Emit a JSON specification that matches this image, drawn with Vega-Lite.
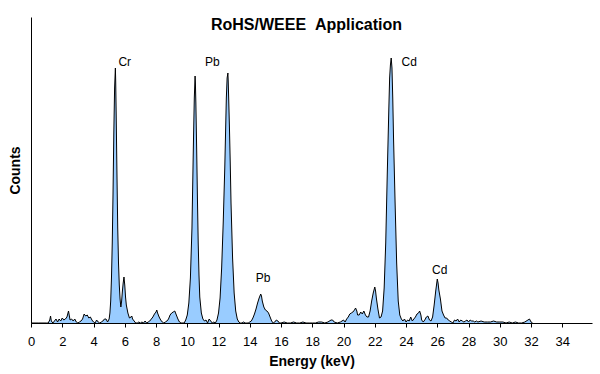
{
  "$schema": "https://vega.github.io/schema/vega-lite/v6.json",
  "width": 561,
  "height": 306,
  "autosize": {"type": "none"},
  "padding": {"left": 31, "top": 17, "right": 8, "bottom": 51},
  "background": "white",
  "config": {
    "view": {"stroke": null},
    "font": "Liberation Sans",
    "axis": {"grid": false, "domainColor": "black", "tickColor": "black", "labelColor": "black", "titleColor": "black", "labelFont": "Liberation Sans", "titleFont": "Liberation Sans"},
    "axisX": {"values": [0,2,4,6,8,10,12,14,16,18,20,22,24,26,28,30,32,34], "tickSize": 4, "labelPadding": 8, "labelFontSize": 13, "labelFontWeight": "normal", "titleFontSize": 14, "titleFontWeight": "bold", "titlePadding": 6, "labelFlush": false, "labelOverlap": false},
    "axisY": {"labels": false, "ticks": false, "titleFontSize": 14, "titleFontWeight": "bold", "titlePadding": 9}
  },
  "title": {
    "text": "RoHS/WEEE\u00a0\u00a0Application",
    "font": "Liberation Sans",
    "fontSize": 16,
    "fontWeight": "bold",
    "color": "black",
    "anchor": "middle",
    "baseline": "top",
    "offset": -16,
    "dx": -5
  },
  "datasets": {
    "spectrum": [
      {"e":0,"c":0},{"e":0.5,"c":0},{"e":1.0,"c":0},{"e":1.1,"c":0},{"e":1.2,"c":3},{"e":1.25,"c":7},{"e":1.3,"c":2},{"e":1.4,"c":0},{"e":1.5,"c":2},{"e":1.6,"c":4},{"e":1.7,"c":1},{"e":1.8,"c":4},{"e":1.9,"c":2},{"e":2.0,"c":5},{"e":2.1,"c":3},{"e":2.2,"c":4},{"e":2.3,"c":6},{"e":2.4,"c":12},{"e":2.5,"c":3},{"e":2.6,"c":4},{"e":2.7,"c":2},{"e":2.8,"c":4},{"e":2.9,"c":1},{"e":3.0,"c":0},{"e":3.1,"c":1},{"e":3.2,"c":2},{"e":3.3,"c":4},{"e":3.4,"c":9},{"e":3.5,"c":7},{"e":3.6,"c":8},{"e":3.7,"c":5},{"e":3.8,"c":6},{"e":3.9,"c":3},{"e":4.0,"c":1},{"e":4.1,"c":0},{"e":4.2,"c":3},{"e":4.3,"c":1},{"e":4.4,"c":0},{"e":4.5,"c":1},{"e":4.6,"c":2},{"e":4.7,"c":4},{"e":4.8,"c":4},{"e":4.9,"c":1},{"e":5.0,"c":4},
      {"e":5.05,"c":10},{"e":5.1,"c":22},{"e":5.15,"c":45},{"e":5.2,"c":80},{"e":5.25,"c":130},{"e":5.3,"c":190},{"e":5.35,"c":235},{"e":5.4,"c":255},{"e":5.42,"c":242},{"e":5.45,"c":210},{"e":5.5,"c":150},{"e":5.55,"c":95},{"e":5.6,"c":60},{"e":5.65,"c":38},{"e":5.7,"c":24},{"e":5.75,"c":16},{"e":5.8,"c":22},{"e":5.85,"c":32},{"e":5.9,"c":40},{"e":5.95,"c":46},{"e":6.0,"c":38},{"e":6.05,"c":26},{"e":6.1,"c":18},{"e":6.2,"c":10},{"e":6.3,"c":5},{"e":6.4,"c":6},{"e":6.45,"c":7},{"e":6.5,"c":4},{"e":6.6,"c":2},{"e":6.7,"c":0},{"e":6.8,"c":0},{"e":6.9,"c":1},{"e":7.0,"c":0},{"e":7.1,"c":1},{"e":7.2,"c":0},{"e":7.3,"c":2},{"e":7.4,"c":0},{"e":7.5,"c":1},{"e":7.6,"c":2},{"e":7.7,"c":4},{"e":7.8,"c":6},{"e":7.9,"c":9},{"e":8.0,"c":11},{"e":8.05,"c":13},{"e":8.1,"c":10},{"e":8.2,"c":6},{"e":8.3,"c":3},{"e":8.4,"c":1},{"e":8.5,"c":0},{"e":8.6,"c":1},{"e":8.7,"c":2},{"e":8.8,"c":4},{"e":8.9,"c":8},{"e":9.0,"c":10},{"e":9.1,"c":11},{"e":9.2,"c":12},{"e":9.3,"c":8},{"e":9.4,"c":4},{"e":9.5,"c":1},{"e":9.6,"c":0},{"e":9.8,"c":0},{"e":9.9,"c":3},
      {"e":10.0,"c":8},{"e":10.1,"c":20},{"e":10.2,"c":45},{"e":10.3,"c":95},{"e":10.35,"c":140},{"e":10.4,"c":185},{"e":10.45,"c":225},{"e":10.5,"c":247},{"e":10.52,"c":240},{"e":10.55,"c":220},{"e":10.6,"c":175},{"e":10.65,"c":125},{"e":10.7,"c":80},{"e":10.75,"c":48},{"e":10.8,"c":26},{"e":10.9,"c":10},{"e":11.0,"c":4},{"e":11.1,"c":2},{"e":11.2,"c":3},{"e":11.3,"c":0},{"e":11.4,"c":4},{"e":11.5,"c":2},{"e":11.6,"c":0},{"e":11.7,"c":1},{"e":11.8,"c":0},{"e":11.9,"c":3},
      {"e":12.0,"c":10},{"e":12.1,"c":25},{"e":12.2,"c":55},{"e":12.3,"c":100},{"e":12.4,"c":155},{"e":12.45,"c":190},{"e":12.5,"c":225},{"e":12.55,"c":245},{"e":12.6,"c":250},{"e":12.62,"c":242},{"e":12.65,"c":225},{"e":12.7,"c":195},{"e":12.75,"c":160},{"e":12.8,"c":120},{"e":12.9,"c":65},{"e":13.0,"c":30},{"e":13.1,"c":12},{"e":13.2,"c":4},{"e":13.3,"c":1},{"e":13.4,"c":0},{"e":13.5,"c":0},{"e":13.6,"c":1},{"e":13.7,"c":0},{"e":13.8,"c":0},{"e":13.9,"c":0},
      {"e":14.0,"c":1},{"e":14.1,"c":2},{"e":14.2,"c":5},{"e":14.3,"c":9},{"e":14.4,"c":14},{"e":14.5,"c":20},{"e":14.6,"c":25},{"e":14.7,"c":29},{"e":14.75,"c":27},{"e":14.8,"c":22},{"e":14.9,"c":16},{"e":15.0,"c":13},{"e":15.1,"c":12},{"e":15.2,"c":10},{"e":15.3,"c":6},{"e":15.4,"c":2},{"e":15.5,"c":0},{"e":15.6,"c":1},{"e":15.7,"c":3},{"e":15.8,"c":2},{"e":15.9,"c":0},{"e":16.0,"c":0},{"e":16.2,"c":1},{"e":16.4,"c":0},{"e":16.6,"c":0},{"e":16.8,"c":1},{"e":17.0,"c":0},{"e":17.2,"c":0},{"e":17.4,"c":1},{"e":17.6,"c":0},{"e":17.8,"c":0},{"e":18.0,"c":0},{"e":18.2,"c":0},{"e":18.4,"c":1},{"e":18.6,"c":1},{"e":18.8,"c":0},{"e":19.0,"c":1},{"e":19.2,"c":3},{"e":19.3,"c":3},{"e":19.4,"c":1},{"e":19.6,"c":0},{"e":19.8,"c":1},
      {"e":20.0,"c":3},{"e":20.1,"c":1},{"e":20.2,"c":4},{"e":20.3,"c":6},{"e":20.4,"c":9},{"e":20.5,"c":10},{"e":20.6,"c":11},{"e":20.7,"c":13},{"e":20.77,"c":15},{"e":20.85,"c":12},{"e":20.9,"c":8},{"e":21.0,"c":8},{"e":21.1,"c":11},{"e":21.2,"c":9},{"e":21.3,"c":12},{"e":21.4,"c":8},{"e":21.5,"c":6},{"e":21.6,"c":6},{"e":21.7,"c":12},{"e":21.8,"c":22},{"e":21.9,"c":30},{"e":22.0,"c":36},{"e":22.05,"c":32},{"e":22.1,"c":25},{"e":22.2,"c":14},{"e":22.3,"c":5},{"e":22.4,"c":6},{"e":22.5,"c":12},{"e":22.6,"c":35},{"e":22.7,"c":80},{"e":22.8,"c":150},{"e":22.9,"c":215},{"e":22.95,"c":245},{"e":23.0,"c":258},{"e":23.05,"c":265},{"e":23.1,"c":255},{"e":23.15,"c":225},{"e":23.2,"c":185},{"e":23.3,"c":120},{"e":23.4,"c":60},{"e":23.5,"c":22},{"e":23.6,"c":8},{"e":23.7,"c":4},{"e":23.8,"c":2},{"e":23.9,"c":4},
      {"e":24.0,"c":1},{"e":24.1,"c":3},{"e":24.2,"c":2},{"e":24.3,"c":6},{"e":24.4,"c":2},{"e":24.5,"c":4},{"e":24.6,"c":6},{"e":24.7,"c":9},{"e":24.8,"c":10},{"e":24.87,"c":12},{"e":24.95,"c":8},{"e":25.0,"c":3},{"e":25.1,"c":1},{"e":25.2,"c":3},{"e":25.3,"c":6},{"e":25.4,"c":7},{"e":25.5,"c":3},{"e":25.6,"c":2},{"e":25.7,"c":6},{"e":25.8,"c":18},{"e":25.9,"c":32},{"e":26.0,"c":44},{"e":26.05,"c":40},{"e":26.1,"c":33},{"e":26.2,"c":24},{"e":26.3,"c":12},{"e":26.4,"c":8},{"e":26.5,"c":5},{"e":26.6,"c":5},{"e":26.7,"c":3},{"e":26.8,"c":2},{"e":26.9,"c":1},
      {"e":27.0,"c":0},{"e":27.1,"c":3},{"e":27.2,"c":2},{"e":27.3,"c":4},{"e":27.4,"c":1},{"e":27.5,"c":3},{"e":27.6,"c":2},{"e":27.7,"c":1},{"e":27.8,"c":2},{"e":27.9,"c":3},{"e":28.0,"c":1},{"e":28.1,"c":3},{"e":28.2,"c":2},{"e":28.3,"c":2},{"e":28.4,"c":1},{"e":28.5,"c":2},{"e":28.6,"c":1},{"e":28.8,"c":2},{"e":29.0,"c":1},{"e":29.2,"c":1},{"e":29.4,"c":1},{"e":29.6,"c":2},{"e":29.8,"c":1},{"e":30.0,"c":1},{"e":30.2,"c":1},{"e":30.4,"c":0},{"e":30.6,"c":1},{"e":30.8,"c":0},{"e":31.0,"c":1},{"e":31.2,"c":0},{"e":31.4,"c":0},{"e":31.6,"c":1},{"e":31.8,"c":3},{"e":31.9,"c":4},{"e":32.0,"c":1},{"e":32.1,"c":0}
    ],
    "labels": [
      {"e":6.0,"c":261,"label":"Cr"},
      {"e":11.6,"c":261,"label":"Pb"},
      {"e":24.2,"c":261,"label":"Cd"},
      {"e":14.85,"c":45,"label":"Pb"},
      {"e":26.15,"c":53,"label":"Cd"}
    ]
  },
  "layer": [
    {
      "data": {"name": "spectrum"},
      "mark": {"type": "area", "color": "#99CCFF", "opacity": 1, "line": {"color": "black", "strokeWidth": 1}},
      "encoding": {
        "x": {"field": "e", "type": "quantitative", "title": "Energy (keV)", "scale": {"domain": [0, 35.9], "nice": false, "zero": false}},
        "y": {"field": "c", "type": "quantitative", "title": "Counts", "scale": {"domain": [0, 306], "nice": false}}
      }
    },
    {
      "data": {"name": "labels"},
      "mark": {"type": "text", "font": "Liberation Sans", "fontSize": 12, "color": "black", "align": "center", "baseline": "middle"},
      "encoding": {
        "x": {"field": "e", "type": "quantitative", "title": "Energy (keV)"},
        "y": {"field": "c", "type": "quantitative", "title": "Counts"},
        "text": {"field": "label"}
      }
    }
  ]
}
